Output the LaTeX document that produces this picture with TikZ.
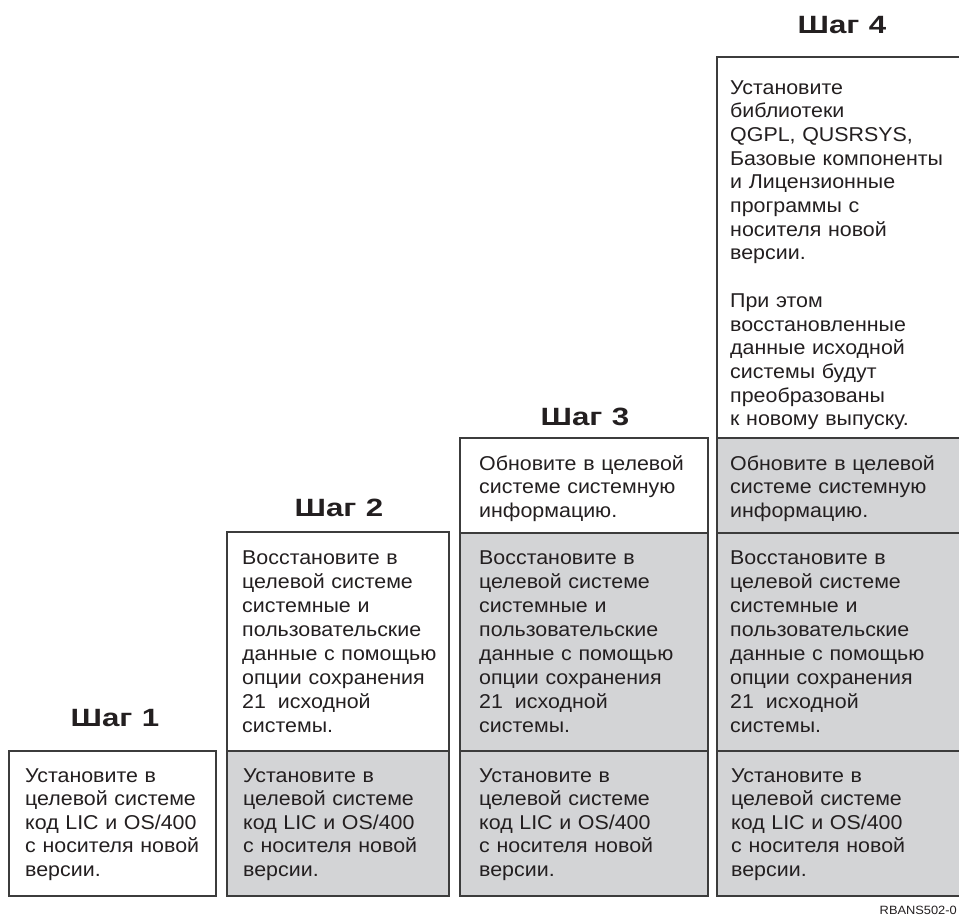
\documentclass[tikz,border=0pt]{standalone}
\usepackage{fontspec}
\setmainfont{Liberation Sans}[FakeStretch=1.07]
\newfontfamily\stepfont{Liberation Sans}[FakeStretch=1.25,WordSpace=1.1]
\usepackage{tikz}
\definecolor{boxgray}{RGB}{211,212,214}
\definecolor{edge}{RGB}{60,60,60}
\definecolor{ink}{RGB}{35,31,32}

\begin{document}
\begin{tikzpicture}[x=1pt,y=-1pt,
		box/.style={draw=edge,line width=1.3pt,fill=white},
		shade/.style={draw=edge,line width=1.3pt,fill=boxgray},
		txt/.style={anchor=base west,inner sep=0pt,text width=240pt,align=left,text=ink,font=\fontsize{20}{23.5}\selectfont},
		tall/.style={txt,font=\fontsize{20}{24}\selectfont},
		head/.style={anchor=base,inner sep=0pt,text=ink,font=\stepfont\fontsize{25}{30}\selectfont\bfseries}]
	\useasboundingbox (0,0) rectangle (959,918);
	\clip (0,0) rectangle (959,918);
	% step 1
	\draw[box] (9,751) rectangle (216,896);
	% step 2
	\draw[box] (227,532) rectangle (449,751);
	\draw[shade] (227,751) rectangle (449,896);
	% step 3
	\draw[box] (460,438) rectangle (708,533);
	\draw[shade] (460,533) rectangle (708,751);
	\draw[shade] (460,751) rectangle (708,896);
	% step 4
	\draw[box] (717,57) rectangle (970,438);
	\draw[shade] (717,438) rectangle (970,533);
	\draw[shade] (717,533) rectangle (970,751);
	\draw[shade] (717,751) rectangle (970,896);

	\node[head] (h1) at (115,726) {Шаг 1};
	\node[head] (h2) at (339,516) {Шаг 2};
	\node[head] (h3) at (585,425) {Шаг 3};
	\node[head] (h4) at (842,34) {Шаг 4};

	\node[txt] (lic1) at (25,782) {Установите в\\целевой системе\\код LIC и OS/400\\с носителя новой\\версии.};
	\node[txt] (lic2) at (243,782) {Установите в\\целевой системе\\код LIC и OS/400\\с носителя новой\\версии.};
	\node[txt] (lic3) at (479,782) {Установите в\\целевой системе\\код LIC и OS/400\\с носителя новой\\версии.};
	\node[txt] (lic4) at (731,782) {Установите в\\целевой системе\\код LIC и OS/400\\с носителя новой\\версии.};

	\node[tall] (rst2) at (242,564) {Восстановите в\\целевой системе\\системные и\\пользовательские\\данные с помощью\\опции сохранения\\21\hspace{12pt}исходной\\системы.};
	\node[tall] (rst3) at (479,564) {Восстановите в\\целевой системе\\системные и\\пользовательские\\данные с помощью\\опции сохранения\\21\hspace{12pt}исходной\\системы.};
	\node[tall] (rst4) at (730,564) {Восстановите в\\целевой системе\\системные и\\пользовательские\\данные с помощью\\опции сохранения\\21\hspace{12pt}исходной\\системы.};

	\node[txt] (upd3) at (479,470) {Обновите в целевой\\системе системную\\информацию.};
	\node[txt] (upd4) at (730,470) {Обновите в целевой\\системе системную\\информацию.};

	\node[txt,font=\fontsize{20}{23.7}\selectfont] (lib4) at (730,94) {Установите\\библиотеки\\QGPL, QUSRSYS,\\Базовые компоненты\\и Лицензионные\\программы с\\носителя новой\\версии.\\[23.7pt]При этом\\восстановленные\\данные исходной\\системы будут\\преобразованы\\к новому выпуску.};

	\node[anchor=base east,inner sep=0pt,text=ink,font=\fontsize{12}{14}\selectfont] (fig) at (957,914) {RBANS502-0};
\end{tikzpicture}
\end{document}
